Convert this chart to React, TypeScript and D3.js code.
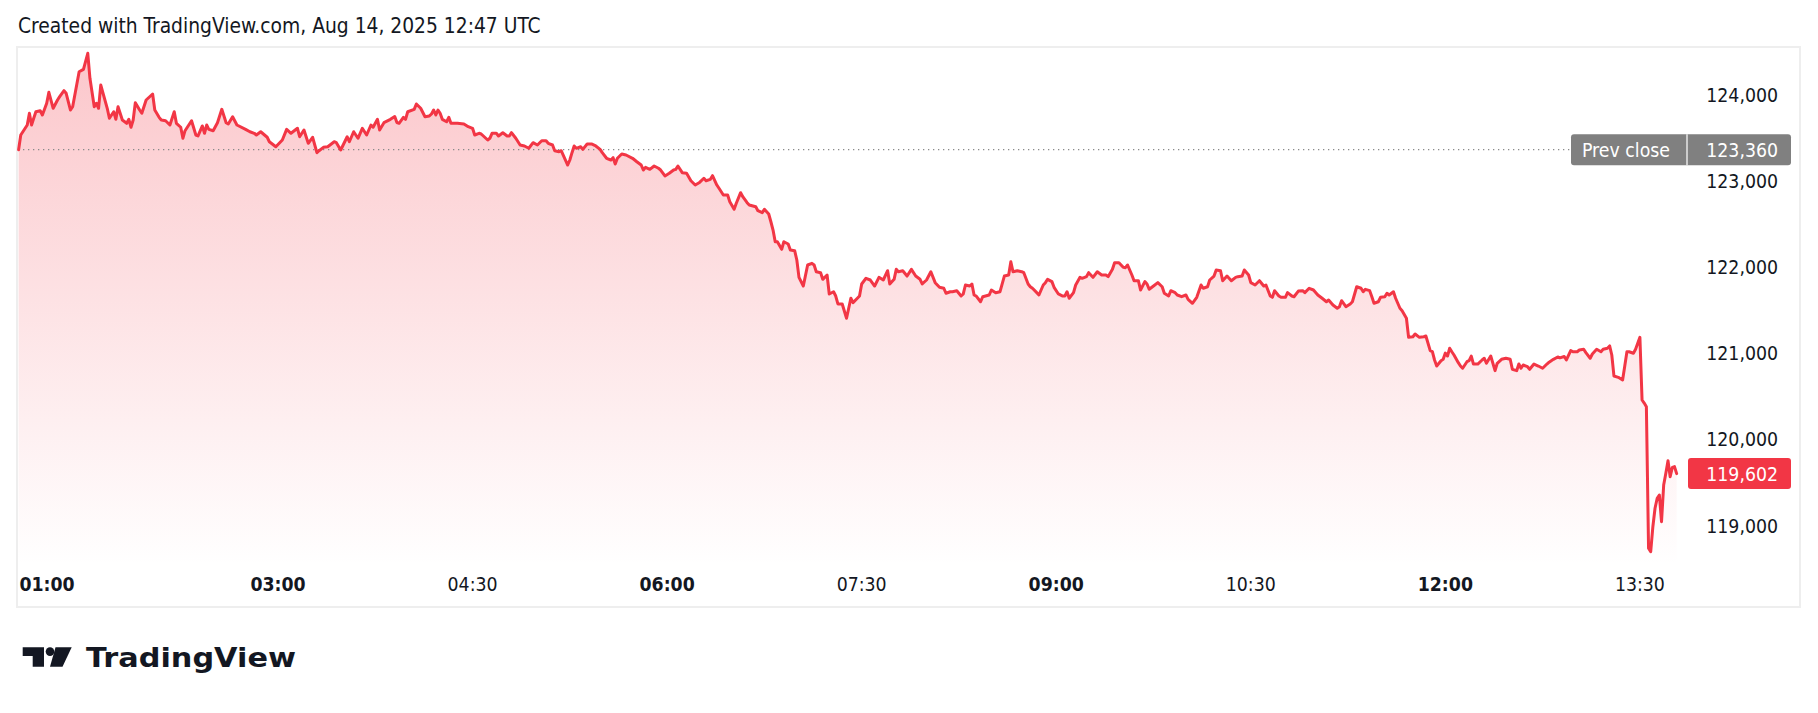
import React from "react";
import * as d3 from "d3";

// minutes since 01:00 (chart time)
const minutes = [
  0, 1, 4, 5, 6, 7, 8, 10, 11, 13, 14, 16, 18, 19, 21, 22, 24, 25, 28, 30, 32, 33, 35, 36, 37, 38, 41, 42, 44, 45, 46, 48, 50, 51, 52, 53, 54, 56, 57, 59,
  62, 63, 65, 66, 68, 70, 72, 73, 75, 76, 77, 80, 82, 83, 85, 86, 87, 88, 90, 92, 94, 96, 97, 99, 101, 105, 107, 109, 110, 112, 115, 116, 119, 122, 124, 126, 129, 130, 132, 134,
  136, 138, 139, 141, 143, 146, 147, 149, 152, 153, 155, 157, 159, 161, 163, 164, 166, 167, 169, 172, 174, 175, 176, 178, 179, 180, 183, 184, 186, 188, 190, 191, 192, 193, 194, 195, 196, 198, 199, 200,
  203, 206, 208, 210, 211, 213, 214, 217, 218, 219, 221, 222, 224, 226, 227, 228, 230, 232, 234, 236, 238, 240, 242, 244, 245, 247, 248, 250, 251, 254, 255, 256, 257, 258, 260, 261, 263, 265, 267, 269,
  270, 272, 274, 275, 276, 277, 279, 281, 284, 286, 288, 289, 290, 292, 294, 296, 297, 299, 301, 303, 304, 305, 307, 309, 311, 313, 315, 317, 318, 320, 321, 323, 324, 326, 328, 329, 331, 332, 334, 335,
  337, 338, 341, 342, 344, 345, 347, 348, 349, 350, 351, 353, 354, 356, 357, 359, 360, 361, 363, 365, 367, 368, 369, 371, 372, 374, 375, 377, 378, 379, 381, 383, 385, 386, 388, 389, 390, 392, 394, 396,
  398, 400, 402, 403, 405, 406, 407, 409, 411, 413, 415, 417, 418, 420, 422, 424, 426, 428, 429, 431, 432, 434, 436, 437, 438, 440, 441, 442, 443, 445, 446, 449, 450, 452, 454, 456, 458, 459, 460, 462,
  464, 465, 467, 468, 469, 471, 472, 474, 475, 476, 478, 479, 481, 483, 484, 485, 486, 488, 489, 491, 492, 494, 495, 497, 499, 501, 503, 504, 506, 507, 509, 511, 512, 513, 515, 516, 518, 519, 521, 522,
  523, 525, 527, 529, 530, 532, 533, 535, 536, 538, 540, 541, 543, 545, 547, 548, 550, 551, 553, 554, 556, 557, 559, 561, 563, 564, 566, 567, 569, 570, 572, 574, 576, 577, 579, 580, 581, 583, 584, 586,
  587, 589, 590, 592, 594, 595, 597, 599, 601, 603, 605, 606, 608, 610, 611, 612, 614, 616, 617, 619, 621, 622, 623, 625, 626, 627, 629, 630, 632, 633, 634, 636, 637, 639, 640, 642, 643, 645, 646, 648,
  650, 651, 653, 654, 655, 656, 658, 659, 660, 661, 662, 663, 664, 666, 667, 668, 670, 671, 672, 673, 675, 677, 678, 679, 681, 683, 684, 686, 688, 690, 691, 693, 694, 695, 696, 698, 699, 701, 703, 705,
  707, 708, 710, 712, 713, 715, 716, 718, 719, 721, 722, 724, 725, 727, 728, 730, 732, 733, 735, 736, 737, 738, 740, 742, 743, 744, 745, 747, 748, 749, 750, 751, 752, 753, 754, 755, 756, 757, 758, 759,
  760, 761, 762, 763, 764, 765, 766, 767,
];

const prices = [
  123360, 123530, 123646, 123782, 123646, 123724, 123800, 123812, 123762, 123898, 124025, 123840, 123936, 123975, 124044, 124014, 123820, 123858, 124264, 124292, 124478, 124188, 123858, 123898, 123840, 124110, 123840, 123724, 123800, 123712, 123858, 123704, 123666, 123712, 123620, 123704, 123905, 123820, 123782, 123936,
  124006, 123820, 123735, 123704, 123696, 123646, 123800, 123666, 123620, 123492, 123580, 123696, 123530, 123519, 123635, 123550, 123646, 123596, 123580, 123673, 123828, 123673, 123658, 123742, 123646, 123596, 123568, 123550, 123530, 123568, 123504, 123452, 123394, 123472, 123596, 123550, 123608, 123510, 123588, 123434,
  123504, 123325, 123348, 123387, 123394, 123452, 123441, 123356, 123510, 123452, 123568, 123492, 123608, 123530, 123646, 123620, 123712, 123588, 123673, 123712, 123745, 123675, 123666, 123735, 123712, 123800, 123828, 123890, 123840, 123742, 123751, 123774, 123820, 123762, 123820, 123782, 123712, 123684, 123735, 123666,
  123666, 123658, 123627, 123608, 123530, 123550, 123542, 123472, 123492, 123550, 123550, 123519, 123557, 123519, 123519, 123557, 123492, 123414, 123403, 123376, 123441, 123414, 123464, 123464, 123434, 123414, 123348, 123336, 123348, 123182, 123240, 123325, 123403, 123376, 123394, 123364, 123426, 123426, 123403, 123364,
  123325, 123260, 123240, 123267, 123194, 123260, 123310, 123298, 123260, 123220, 123182, 123124, 123155, 123132, 123171, 123144, 123124, 123055, 123086, 123124, 123132, 123171, 123093, 123086, 123000, 122950, 122980, 123028, 123000, 123016, 123058, 122950, 122912, 122834, 122834, 122756, 122668, 122738, 122861, 122814,
  122745, 122718, 122698, 122652, 122629, 122668, 122614, 122524, 122428, 122292, 122292, 122204, 122292, 122266, 122196, 122188, 122080, 121879, 121778, 122022, 122041, 122022, 121944, 121933, 121856, 121906, 121686, 121712, 121662, 121570, 121570, 121404, 121636, 121585, 121636, 121662, 121802, 121868, 121848, 121778,
  121879, 121848, 121956, 121802, 121856, 121972, 121944, 121956, 121894, 121972, 121894, 121856, 121802, 121848, 121944, 121817, 121763, 121752, 121694, 121712, 121712, 121724, 121662, 121686, 121790, 121778, 121802, 121674, 121662, 121596, 121654, 121674, 121732, 121701, 121712, 121894, 121906, 122060, 121944, 121956,
  121944, 121933, 121802, 121770, 121752, 121701, 121674, 121790, 121817, 121856, 121829, 121763, 121686, 121662, 121662, 121712, 121636, 121701, 121790, 121879, 121868, 121887, 121933, 121879, 121944, 121906, 121906, 121887, 121972, 122049, 122049, 121995, 121991, 122022, 121906, 121840, 121840, 121732, 121829, 121802,
  121740, 121778, 121817, 121770, 121694, 121662, 121724, 121701, 121674, 121654, 121674, 121624, 121578, 121647, 121790, 121752, 121770, 121848, 121894, 121964, 121956, 121840, 121894, 121840, 121879, 121887, 121894, 121964, 121906, 121817, 121790, 121840, 121778, 121790, 121662, 121647, 121724, 121662, 121647, 121647,
  121701, 121662, 121654, 121720, 121724, 121701, 121752, 121732, 121674, 121636, 121596, 121616, 121558, 121520, 121538, 121608, 121538, 121570, 121596, 121770, 121752, 121712, 121740, 121724, 121654, 121578, 121596, 121647, 121654, 121694, 121674, 121712, 121636, 121520, 121492, 121404, 121183, 121190, 121222, 121183,
  121190, 121198, 121028, 121016, 120920, 120850, 120912, 120928, 121000, 120966, 121056, 121016, 120978, 120889, 120850, 120824, 120900, 120912, 120966, 120873, 120873, 120920, 120940, 120882, 120966, 120796, 120882, 120928, 120940, 120928, 120812, 120796, 120873, 120824, 120862, 120842, 120812, 120873, 120850, 120824,
  120873, 120895, 120928, 120955, 120945, 120960, 120920, 121030, 121016, 121016, 121036, 121044, 121005, 120940, 120990, 121044, 121016, 121044, 121056, 121083, 120978, 120734, 120719, 120688, 120850, 121016, 121016, 120998, 121044, 121114, 121183, 120456, 120420, 120378, 118736, 118696, 118986, 119200, 119316, 119354,
  119044, 119470, 119606, 119752, 119566, 119675, 119683, 119602,
];

const prevClose = 123360;
const lastPrice = 119602;
const priceTicks = [119000, 120000, 121000, 122000, 123000, 124000];
const timeTickMinutes = [0, 120, 210, 300, 390, 480, 570, 660, 750];
const timeTickLabels = ["01:00", "03:00", "04:30", "06:00", "07:30", "09:00", "10:30", "12:00", "13:30"];
const boldTimeLabels = ["01:00", "03:00", "06:00", "09:00", "12:00"];
const titleText = "Created with TradingView.com, Aug 14, 2025 12:47 UTC";

const W = 1818;
const H = 713;
const FONT = "'DejaVu Sans Condensed', 'DejaVu Sans', sans-serif";
const RED = "#F23645";
const TEXT = "#131722";

export default function App() {
  const data = minutes.map((m, i) => ({ m, v: prices[i] }));
  const x = d3.scaleLinear().domain([0, 750]).range([18.6, 1639.9]);
  const y = d3.scaleLinear().domain([119000, 124000]).range([525.5, 94.5]);
  const paneBottom = 566;
  const fmt = d3.format(",");

  const line = d3
    .line<{ m: number; v: number }>()
    .x((d) => x(d.m))
    .y((d) => y(d.v));
  const area = d3
    .area<{ m: number; v: number }>()
    .x((d) => x(d.m))
    .y0(paneBottom)
    .y1((d) => y(d.v));

  const topY = y(d3.max(prices) as number);
  const pcY = y(prevClose);
  const lpY = y(lastPrice);
  const axisRight = 1778;
  const txt = { fontFamily: FONT, fontStretch: "condensed" as const };

  return (
    <svg width={W} height={H} style={{ position: "absolute", left: 0, top: 0, background: "#fff" }}>
      <defs>
        <linearGradient id="areaGrad" gradientUnits="userSpaceOnUse" x1={0} y1={topY} x2={0} y2={paneBottom}>
          <stop offset="0" stopColor={RED} stopOpacity={0.28} />
          <stop offset="1" stopColor={RED} stopOpacity={0.0} />
        </linearGradient>
      </defs>
      <rect x={0} y={0} width={W} height={H} fill="#fff" />
      <text x={18} y={32.5} fontSize={20.8} fill={TEXT} style={txt}>
        {titleText}
      </text>
      <rect x={17} y={47} width={1783} height={560} fill="none" stroke="#eeeeee" strokeWidth={2} />

      <path d={area(data) || ""} fill="url(#areaGrad)" />
      <line x1={18} x2={1571} y1={pcY} y2={pcY} stroke="#8a8a8a" strokeWidth={1.3} strokeDasharray="1.3 3.7" />
      <path d={line(data) || ""} fill="none" stroke={RED} strokeWidth={3} strokeLinejoin="round" strokeLinecap="round" />

      {priceTicks.map((v) => (
        <text key={v} x={axisRight} y={y(v) + 7} fontSize={19.3} textAnchor="end" fill={TEXT} style={txt}>
          {fmt(v)}
        </text>
      ))}

      <g>
        <rect x={1571} y={pcY - 15.5} width={220} height={31} rx={3} fill="#808080" />
        <line x1={1687} x2={1687} y1={pcY - 15.5} y2={pcY + 15.5} stroke="#fff" strokeWidth={1.2} />
        <text x={1582} y={pcY + 7} fontSize={19.3} fill="#fff" style={txt}>
          Prev close
        </text>
        <text x={axisRight} y={pcY + 7} fontSize={19.3} fill="#fff" textAnchor="end" style={txt}>
          {fmt(prevClose)}
        </text>
      </g>

      <g>
        <rect x={1688} y={lpY - 15.5} width={103} height={31} rx={3} fill={RED} />
        <text x={axisRight} y={lpY + 7} fontSize={19.3} fill="#fff" textAnchor="end" style={txt}>
          {fmt(lastPrice)}
        </text>
      </g>

      {timeTickMinutes.map((m, i) => {
        const label = timeTickLabels[i];
        const bold = boldTimeLabels.includes(label);
        const cx = x(m);
        const halfW = 26;
        const left = Math.max(21, cx - halfW);
        return (
          <text
            key={label}
            x={left + halfW}
            y={591}
            fontSize={19.3}
            fontWeight={bold ? 700 : 400}
            textAnchor="middle"
            fill={TEXT}
            style={txt}
          >
            {label}
          </text>
        );
      })}

      <g fill={TEXT}>
        <polygon points="22.7,647.3 44,647.3 44,666.7 32.7,666.7 32.7,656 22.7,656" />
        <circle cx={50} cy={651.6} r={4.3} />
        <polygon points="55.5,647.3 71.7,647.3 62.5,666.7 50,666.7" />
        <text
          x={86}
          y={666.7}
          fontSize={27}
          fontWeight={700}
          textLength={210}
          lengthAdjust="spacingAndGlyphs"
          style={{ fontFamily: "'DejaVu Sans', sans-serif" }}
        >
          TradingView
        </text>
      </g>
    </svg>
  );
}
